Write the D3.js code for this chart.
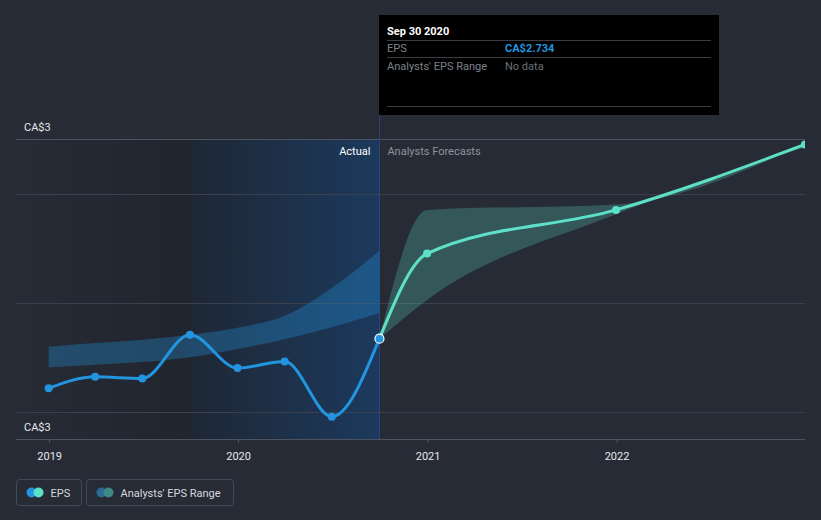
<!DOCTYPE html>
<html>
<head>
<meta charset="utf-8">
<script src="https://cdn.jsdelivr.net/npm/d3@7/dist/d3.min.js"></script>
<style>
  html, body { margin: 0; padding: 0; background: #262b36; }
  svg { display: block; font-family: Roboto, "Noto Sans", sans-serif; }
</style>
</head>
<body>
<svg id="chart" width="821" height="520"></svg>
<script>
// ---- data ----
const epsDates = ["2018-12-31","2019-03-31","2019-06-30","2019-09-30","2019-12-31","2020-03-31","2020-06-30","2020-09-30"];
const epsValues = [2.643, 2.664, 2.661, 2.741, 2.680, 2.692, 2.591, 2.734];
const pastRangeLow  = [2.681, 2.686, 2.691, 2.700, 2.715, 2.733, 2.755, 2.781];
const pastRangeHigh = [2.719, 2.726, 2.732, 2.741, 2.754, 2.776, 2.827, 2.895];

const forecastDates  = ["2020-09-30","2020-12-31","2021-12-31","2022-12-31"];
const forecastValues = [2.734, 2.890, 2.970, 3.090];
const forecastLow    = [2.734, 2.805, 2.962, 3.085];
const forecastHigh   = [2.734, 2.970, 2.980, 3.091];

const xTickLabels = ["2019","2020","2021","2022"];
const gridValues = [2.6, 2.8, 3.0];
const yDomain = [2.55, 3.1];
const xDomain = ["2018-10-29", "2022-12-31"];

const tooltipTitle = "Sep 30 2020";
const tooltipRows = [["EPS", "CA$2.734"], ["Analysts' EPS Range", "No data"]];
const legendItems = ["EPS", "Analysts' EPS Range"];

// ---- setup ----
const FS = 11;
const parse = d3.timeParse("%Y-%m-%d");
const svg = d3.select("#chart");
const W = 821, H = 520;
const pLeft = 16, pRight = 805, pTop = 139, pBottom = 439;

const x = d3.scaleTime().domain(xDomain.map(parse)).range([pLeft, pRight]);
const y = d3.scaleLinear().domain(yDomain).range([pBottom, pTop]);

const defs = svg.append("defs");
defs.append("clipPath").attr("id", "plotclip")
  .append("rect").attr("x", pLeft).attr("y", 0).attr("width", pRight - pLeft).attr("height", H);

const dark = defs.append("linearGradient").attr("id", "darkgrad").attr("x1", 0).attr("x2", 1).attr("y1", 0).attr("y2", 0);
dark.append("stop").attr("offset", "0%").attr("stop-color", "#000").attr("stop-opacity", 0.0);
dark.append("stop").attr("offset", "100%").attr("stop-color", "#000").attr("stop-opacity", 0.15);

const blue = defs.append("linearGradient").attr("id", "bluegrad").attr("x1", 0).attr("x2", 1).attr("y1", 0).attr("y2", 0);
blue.append("stop").attr("offset", "0%").attr("stop-color", "#1565c0").attr("stop-opacity", 0.05);
blue.append("stop").attr("offset", "100%").attr("stop-color", "#1565c0").attr("stop-opacity", 0.33);

const splitDate = parse("2020-09-30");
const yearAgo = parse("2019-09-30");

// background shading
svg.append("rect").attr("x", pLeft).attr("y", pTop).attr("width", x(yearAgo) - pLeft).attr("height", pBottom - pTop)
  .attr("fill", "url(#darkgrad)");
svg.append("rect").attr("x", x(yearAgo)).attr("y", pTop).attr("width", x(splitDate) - x(yearAgo)).attr("height", pBottom - pTop)
  .attr("fill", "#000").attr("fill-opacity", 0.16);
svg.append("rect").attr("x", x(yearAgo)).attr("y", pTop).attr("width", x(splitDate) - x(yearAgo)).attr("height", pBottom - pTop)
  .attr("fill", "url(#bluegrad)");

// gridlines
svg.append("g").selectAll("line").data(gridValues).join("line")
  .attr("x1", pLeft).attr("x2", pRight)
  .attr("y1", d => Math.round(y(d)) + 0.5).attr("y2", d => Math.round(y(d)) + 0.5)
  .attr("stroke", "#3a404d").attr("stroke-width", 1);

// top boundary line
svg.append("line").attr("x1", pLeft).attr("x2", pRight).attr("y1", pTop + 0.5).attr("y2", pTop + 0.5)
  .attr("stroke", "#4d5361").attr("stroke-width", 1);

// x axis
const xAxis = d3.axisBottom(x)
  .tickValues(xTickLabels.map(t => parse(t + "-01-01")))
  .tickFormat(d3.timeFormat("%Y"))
  .tickSize(4).tickSizeOuter(0);
const gx = svg.append("g").attr("transform", `translate(0,${pBottom})`).call(xAxis);
gx.select(".domain").attr("stroke", "#4d5361").attr("d", `M${pLeft},0.5H${pRight}`);
gx.selectAll(".tick line").attr("stroke", "#4d5361");
gx.selectAll(".tick text").attr("fill", "#e6e8eb").attr("font-size", FS).attr("dy", "1.3em")
  .attr("font-family", "Roboto, sans-serif");

// y labels
const fmt = v => "CA$" + d3.format(".0f")(v);
svg.append("text").attr("x", 24).attr("y", 131).attr("fill", "#e6e8eb").attr("font-size", FS).text(fmt(yDomain[1]));
svg.append("text").attr("x", 24).attr("y", 431).attr("fill", "#e6e8eb").attr("font-size", FS).text(fmt(yDomain[0]));

// split vertical line
svg.append("line").attr("x1", Math.round(x(splitDate)) + 0.5).attr("x2", Math.round(x(splitDate)) + 0.5)
  .attr("y1", 115).attr("y2", pBottom).attr("stroke", "#24467a").attr("stroke-width", 1);

// Actual / Forecast labels
svg.append("text").attr("x", x(splitDate) - 9).attr("y", 155).attr("text-anchor", "end")
  .attr("fill", "#ffffff").attr("font-size", FS).text("Actual");
svg.append("text").attr("x", x(splitDate) + 8).attr("y", 155)
  .attr("fill", "#8e939c").attr("font-size", FS).text("Analysts Forecasts");

const plot = svg.append("g").attr("clip-path", "url(#plotclip)");

// past range band
const pastBand = epsDates.map((d, i) => ({ d: parse(d), lo: pastRangeLow[i], hi: pastRangeHigh[i] }));
plot.append("path").datum(pastBand)
  .attr("d", d3.area().x(p => x(p.d)).y0(p => y(p.lo)).y1(p => y(p.hi)).curve(d3.curveMonotoneX))
  .attr("fill", "#2394df").attr("fill-opacity", 0.32);

// forecast band
const fBand = forecastDates.map((d, i) => ({ d: parse(d), lo: forecastLow[i], hi: forecastHigh[i] }));
plot.append("path").datum(fBand)
  .attr("d", d3.area().x(p => x(p.d)).y0(p => y(p.lo)).y1(p => y(p.hi)).curve(d3.curveMonotoneX))
  .attr("fill", "#5ee0c8").attr("fill-opacity", 0.25);

// forecast line
const fData = forecastDates.map((d, i) => ({ d: parse(d), v: forecastValues[i] }));
plot.append("path").datum(fData)
  .attr("d", d3.line().x(p => x(p.d)).y(p => y(p.v)).curve(d3.curveMonotoneX))
  .attr("fill", "none").attr("stroke", "#5ee0c8").attr("stroke-width", 3);
plot.append("g").selectAll("circle").data(fData.slice(1)).join("circle")
  .attr("cx", p => x(p.d)).attr("cy", p => y(p.v)).attr("r", 4).attr("fill", "#5ee0c8");

// eps line
const eData = epsDates.map((d, i) => ({ d: parse(d), v: epsValues[i] }));
plot.append("path").datum(eData)
  .attr("d", d3.line().x(p => x(p.d)).y(p => y(p.v)).curve(d3.curveMonotoneX))
  .attr("fill", "none").attr("stroke", "#2394df").attr("stroke-width", 3);
plot.append("g").selectAll("circle").data(eData.slice(0, -1)).join("circle")
  .attr("cx", p => x(p.d)).attr("cy", p => y(p.v)).attr("r", 4).attr("fill", "#2394df");
const last = eData[eData.length - 1];
plot.append("circle").attr("cx", x(last.d)).attr("cy", y(last.v)).attr("r", 4.5)
  .attr("fill", "#2394df").attr("stroke", "#ffffff").attr("stroke-width", 1.2);

// tooltip
const tx = Math.round(x(splitDate)), ty = 15, tw = 340, th = 100;
const tip = svg.append("g");
tip.append("rect").attr("x", tx).attr("y", ty).attr("width", tw).attr("height", th).attr("fill", "#000");
tip.append("text").attr("x", tx + 8).attr("y", 35).attr("fill", "#fff").attr("font-size", FS)
  .attr("font-weight", "bold").text(tooltipTitle);
[40.5, 57.5, 106.5].forEach(yy => tip.append("line").attr("x1", tx + 8).attr("x2", tx + tw - 8)
  .attr("y1", yy).attr("y2", yy).attr("stroke", "#3a3d44").attr("stroke-width", 1));
tooltipRows.forEach((r, i) => {
  const yy = 52 + i * 18;
  tip.append("text").attr("x", tx + 8).attr("y", yy).attr("fill", "#7d828a").attr("font-size", FS).text(r[0]);
  tip.append("text").attr("x", tx + 126).attr("y", yy)
    .attr("fill", i === 0 ? "#2394df" : "#6b7078").attr("font-size", FS)
    .attr("font-weight", i === 0 ? "bold" : "normal").text(r[1]);
});

// legend
const legendX = [16.5, 86.5], legendW = [65, 147];
const legendColors = [["#2394df", "#5ee0c8"], ["#2b6a98", "#3e8a85"]];
legendItems.forEach((t, i) => {
  const g = svg.append("g");
  g.append("rect").attr("x", legendX[i]).attr("y", 479.5).attr("width", legendW[i]).attr("height", 26)
    .attr("rx", 3).attr("fill", "none").attr("stroke", "#444a58").attr("stroke-width", 1);
  g.append("circle").attr("cx", legendX[i] + 15).attr("cy", 492.5).attr("r", 5).attr("fill", legendColors[i][0]);
  g.append("circle").attr("cx", legendX[i] + 22).attr("cy", 492.5).attr("r", 5).attr("fill", legendColors[i][1]);
  g.append("text").attr("x", legendX[i] + 34).attr("y", 496.5).attr("fill", "#d5d8dd").attr("font-size", FS).text(t);
});
</script>
</body>
</html>
